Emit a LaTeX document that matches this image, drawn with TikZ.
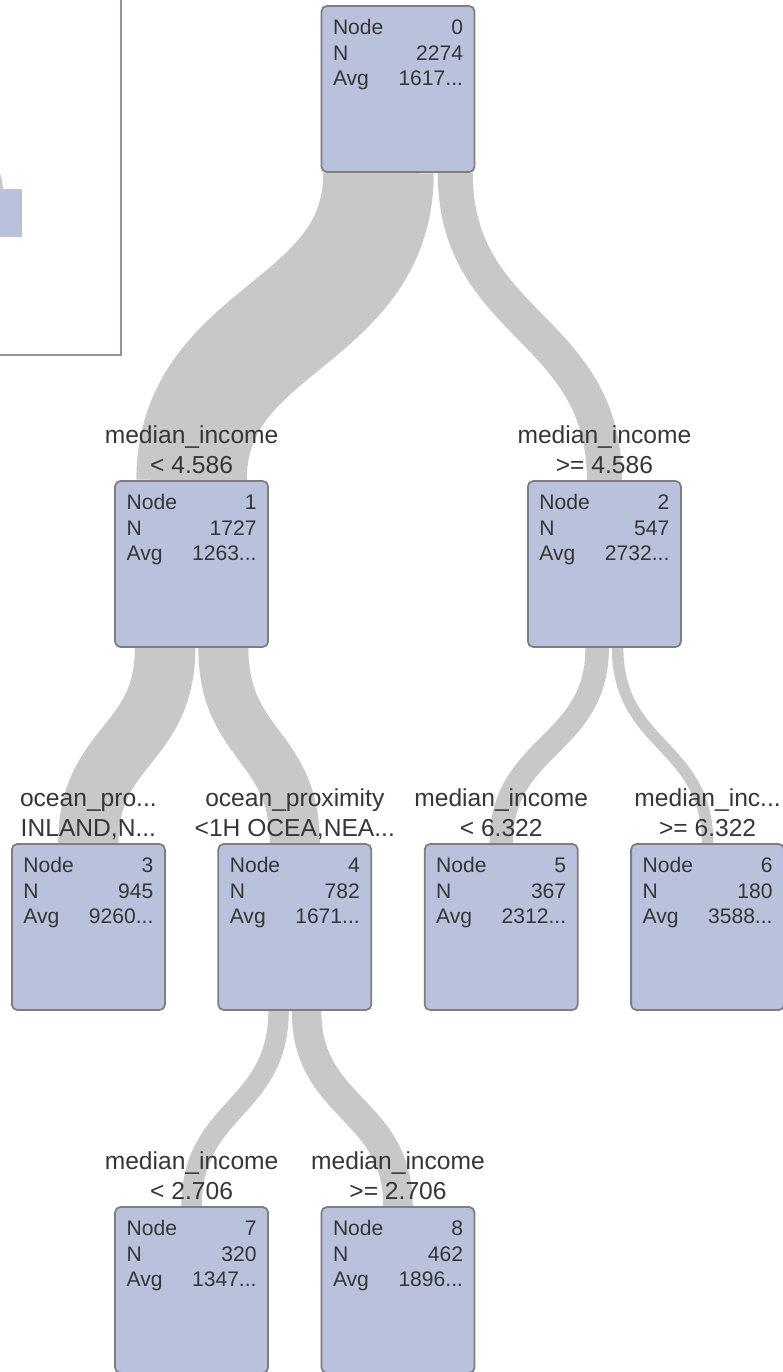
\documentclass[tikz,border=0pt]{standalone}
\usepackage{fontspec}
\setmainfont{Liberation Sans}
\usepackage{tikz}
\usetikzlibrary{positioning,calc,backgrounds}
\definecolor{boxfill}{HTML}{BAC1DD}
\definecolor{boxline}{HTML}{7E7E7E}
\definecolor{flow}{HTML}{C8C8C8}
\definecolor{ink}{HTML}{363636}
\definecolor{frame}{HTML}{8E96A6}
\tikzstyle{box} = [rectangle, draw=boxline, fill=boxfill, rounded corners=3pt, line width=1pt, minimum width=3.06cm, minimum height=3.32cm, inner xsep=0.22cm, inner ysep=0.27cm, text=ink, font=\fontsize{12}{14.5}\selectfont]
\tikzstyle{cond} = [align=center, inner sep=0pt, text=ink, font=\fontsize{14}{17}\selectfont, execute at end node=\strut]
\tikzstyle{band} = [draw=flow]
\newcommand{\stats}[3]{\parbox[c][2.78cm][t]{2.6cm}{Node\hfill #1\\N\hfill #2\\Avg\hfill #3}}

\begin{document}
\begin{tikzpicture}[x=0.02cm, y=0.02cm]
      \pgfmathsetmacro{\cx}{398}
      \pgfmathsetmacro{\dx}{103.2}
      \pgfmathsetmacro{\wn}{0.0364}
      \useasboundingbox (0,0) rectangle (782,-1372);
      \draw [frame, line width=1.2pt] (-10,10) rectangle (121,-355);
      \fill [boxfill] (-10,-189) rectangle (22,-237);
      \fill [flow] (-10,-189) -- (3,-189) .. controls (2,-180) .. (-1,-170) -- (-10,-170) -- cycle;
      \node [box] at (\cx, -89) (n0) {\stats{0}{2274}{1617...}};
      \node [box] at (\cx - 2 * \dx, -564) (n1) {\stats{1}{1727}{1263...}};
      \node [box] at (\cx + 2 * \dx, -564) (n2) {\stats{2}{547}{2732...}};
      \node [box] at (\cx - 3 * \dx, -927) (n3) {\stats{3}{945}{9260...}};
      \node [box] at (\cx - \dx, -927) (n4) {\stats{4}{782}{1671...}};
      \node [box] at (\cx + \dx, -927) (n5) {\stats{5}{367}{2312...}};
      \node [box] at (\cx + 3 * \dx, -927) (n6) {\stats{6}{180}{3588...}};
      \node [box] at (\cx - 2 * \dx, -1290) (n7) {\stats{7}{320}{1347...}};
      \node [box] at (\cx, -1290) (n8) {\stats{8}{462}{1896...}};
      \node [cond, above=-0.06cm of n1] (c1) {median\_income\\< 4.586};
      \node [cond, above=-0.06cm of n2] (c2) {median\_income\\>= 4.586};
      \node [cond, above=-0.06cm of n3] (c3) {ocean\_pro...\\INLAND,N...};
      \node [cond, above=-0.06cm of n4] (c4) {ocean\_proximity\\<1H OCEA,NEA...};
      \node [cond, above=-0.06cm of n5] (c5) {median\_income\\< 6.322};
      \node [cond, above=-0.06cm of n6] (c6) {median\_inc...\\>= 6.322};
      \node [cond, above=-0.06cm of n7] (c7) {median\_income\\< 2.706};
      \node [cond, above=-0.06cm of n8] (c8) {median\_income\\>= 2.706};
      \begin{scope}[on background layer]
      \path [band, line width=1727*\wn] ($(n0.south)+(-19.5,0)$) .. controls +(0,-154.5) and +(0,154.5) .. (n1.north);
      \path [band, line width=547*\wn] ($(n0.south)+(57.25,0)$) .. controls +(0,-154.5) and +(0,154.5) .. (n2.north);
      \path [band, line width=945*\wn] ($(n1.south)+(-26.5,0)$) .. controls +(0,-99) and +(0,99) .. (n3.north);
      \path [band, line width=782*\wn] ($(n1.south)+(31.75,0)$) .. controls +(0,-99) and +(0,99) .. (n4.north);
      \path [band, line width=367*\wn] ($(n2.south)+(-7.25,0)$) .. controls +(0,-99) and +(0,99) .. (n5.north);
      \path [band, line width=180*\wn] ($(n2.south)+(13.25,0)$) .. controls +(0,-99) and +(0,99) .. (n6.north);
      \path [band, line width=320*\wn] ($(n4.south)+(-16.25,0)$) .. controls +(0,-99) and +(0,99) .. (n7.north);
      \path [band, line width=462*\wn] ($(n4.south)+(11.75,0)$) .. controls +(0,-99) and +(0,99) .. (n8.north);
      \end{scope}
    \end{tikzpicture}
\end{document}
